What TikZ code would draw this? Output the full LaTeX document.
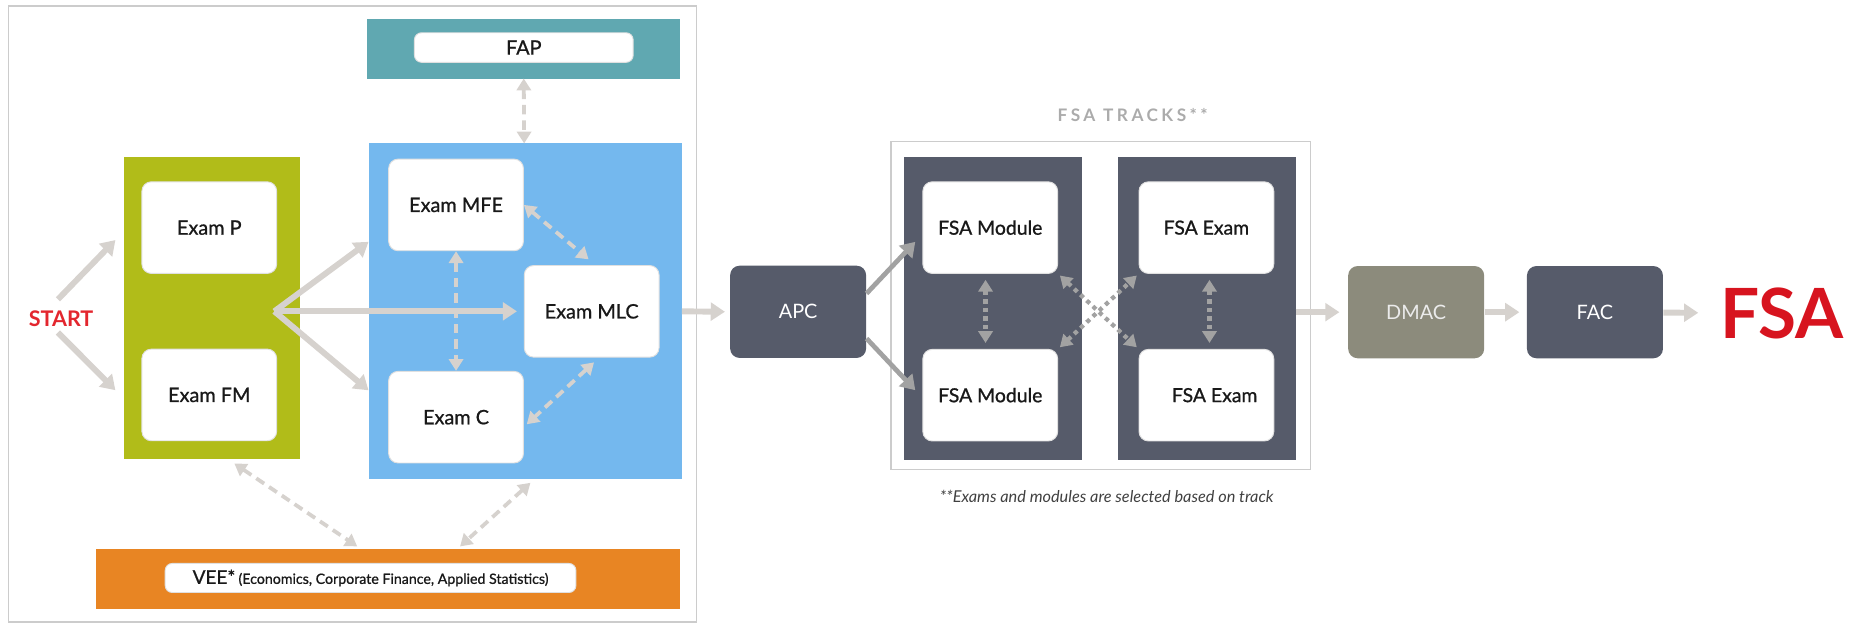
\documentclass[tikz,border=0pt]{standalone}
\usepackage{fontspec}
\setmainfont{Lato}
\newfontfamily\boxfont[FakeBold=0.9]{Lato}
\newfontfamily\trackfont[LetterSpace=20]{Lato}
\usepackage{xcolor}
\usetikzlibrary{positioning,arrows.meta}
\definecolor{examgreen}{HTML}{B1BC19}
\definecolor{examblue}{HTML}{74B8EE}
\definecolor{fapteal}{HTML}{60A8B1}
\definecolor{veeorange}{HTML}{E88523}
\definecolor{slate}{HTML}{565B6A}
\definecolor{dmacgray}{HTML}{8C8B7C}
\definecolor{arrowgray}{HTML}{D6D2CE}
\definecolor{trackgray}{HTML}{A2A2A2}
\definecolor{framegray}{HTML}{CCCCCC}
\definecolor{fsared}{HTML}{D7141F}
\definecolor{startred}{HTML}{E3262E}

\begin{document}
\begin{tikzpicture}[x=0.5pt, y=-0.5pt, node distance=75.6pt,
    panel/.style = {inner sep=0pt, outer sep=0pt},
    exam/.style = {draw=black!12, fill=white, rounded corners=4pt, minimum width=57pt, minimum height=38.75pt, inner sep=0pt, text=black!90, font=\boxfont\fontsize{8.4}{10}\selectfont},
    dark/.style = {fill=slate, rounded corners=4pt, minimum width=57.5pt, minimum height=39pt, inner sep=0pt, text=white, font=\fontsize{8.4}{10}\selectfont},
    flow/.style = {draw=arrowgray, line width=2.5pt, -{Triangle[length=6pt,width=7.5pt]}},
    link/.style = {draw=arrowgray, line width=1.6pt, dash pattern=on 4pt off 2.5pt, {Triangle[length=5pt,width=6pt]}-{Triangle[length=5pt,width=6pt]}},
    swap/.style = {draw=trackgray, line width=1.8pt, dash pattern=on 1.8pt off 1.8pt, {Triangle[length=5pt,width=6pt]}-{Triangle[length=5pt,width=6pt]}}]
  \useasboundingbox (0,0) rectangle (1568,527);

  \node[panel, draw=framegray, line width=0.6pt, minimum width=291pt, minimum height=260.5pt] (frame) at (298,265.5) {};
  \node[panel, fill=fapteal, minimum width=132.3pt, minimum height=25pt] (fapbox) at (442.8,41.4) {};
  \node[exam, minimum width=92.5pt, minimum height=12.5pt, rounded corners=3pt] (fap) at (443,40.2) {FAP};
  \node[panel, fill=examblue, minimum width=132.5pt, minimum height=142pt] (blue) at (444.2,263.3) {};
  \node[panel, fill=examgreen, minimum width=74.6pt, minimum height=128pt] (green) at (179.2,260.6) {};
  \node[panel, fill=veeorange, minimum width=246.9pt, minimum height=25pt] (veebox) at (328.1,489.7) {};
  \node[exam, font=\boxfont, minimum width=173.7pt, minimum height=12.3pt, rounded corners=3pt] (vee) at (313.4,488.8)
    {\fontsize{8}{9}\selectfont VEE*\,{\fontsize{6}{7}\selectfont(Economics, Corporate Finance, Applied Statistics)}};
  \node[inner sep=1pt, text=startred, font=\bfseries\fontsize{9.1}{11}\selectfont] (start) at (51.7,269.3) {START};

  \coordinate (fork) at (232,263.3);
  \draw[flow] ([xshift=-1.35pt,yshift=3.5pt]start.north) -- ([xshift=-3.5pt,yshift=-5.25pt]green.west |- 0,192.5);
  \draw[flow] ([xshift=-1.35pt,yshift=-1.4pt]start.south) -- ([xshift=-3.5pt,yshift=2pt]green.west |- 0,334);
  \draw[flow] (fork) -- ([yshift=29.4pt]blue.west);
  \draw[flow] (fork) -- ([yshift=-33.4pt]blue.west);

  \node[exam] (examP) at (177,192.5) {Exam P};
  \node[exam] (examFM) at (177,334) {Exam FM};
  \node[exam] (examMFE) at (385.7,173.3) {Exam MFE};
  \node[exam] (examMLC) at (500.4,263.3) {Exam MLC};
  \node[exam] (examC) at (385.7,352.8) {Exam C};

  \draw[link] (fapbox) -- (blue);
  \draw[link] (examMFE) -- (examC);
  \draw[flow, shorten >=2.9pt] (fork) -- (examMLC.west);
  \draw[link] (examMFE.east) -- ([xshift=-1.3pt,yshift=2.4pt]examMLC.north);
  \draw[link] ([xshift=1pt,yshift=-2pt]examMLC.south) -- ([xshift=1.2pt,yshift=-3pt]examC.east);
  \draw[link] ([xshift=9.5pt,yshift=-1.7pt]green.south) -- ([xshift=-13pt,yshift=1.3pt]veebox.north);
  \draw[link] ([xshift=2.2pt,yshift=-1.5pt]blue.south) -- ([xshift=30.5pt,yshift=1.3pt]veebox.north);

  \node[dark] (apc) at (675,263.7) {APC};
  \node[panel, draw=framegray, line width=0.6pt, minimum width=177.5pt, minimum height=138.6pt] (tracks) at (931,258.5) {};
  \node[panel, fill=slate, minimum width=75.1pt, minimum height=127.8pt] (lpanel) at (839.8,260.9) {};
  \node[panel, fill=slate, minimum width=75.1pt, minimum height=127.8pt] (rpanel) at (1020.6,260.9) {};
  \node[exam, font=\boxfont\fontsize{8.2}{10}\selectfont] (modTop) at (837.5,192.5) {FSA Module};
  \node[exam, font=\boxfont\fontsize{8.2}{10}\selectfont] (modBot) at (837.5,334.2) {FSA Module};
  \node[exam, font=\boxfont\fontsize{8.2}{10}\selectfont] (examTop) at (1020.3,192.5) {FSA Exam};
  \node[exam, font=\boxfont\fontsize{8.2}{10}\selectfont] (examBot) at (1020.3,334.2) {\hspace*{7pt}FSA Exam};
  \node[text=black!33, font=\trackfont\bfseries\fontsize{7.3}{9}\selectfont] (title) at (958,97.3) {FSA TRACKS**};
  \node[text=black!75, font=\itshape\fontsize{6.9}{8}\selectfont] (note) at (936,420) {**Exams and modules are selected based on track};

  \draw[flow, shorten >=2pt] (blue.east) -- (apc.west);
  \draw[flow, draw=trackgray, line width=2pt] ([yshift=7.75pt]apc.east) -- ([xshift=-3pt,yshift=-6pt]modTop.west);
  \draw[flow, draw=trackgray, line width=2pt] ([yshift=-11.3pt]apc.east) -- ([xshift=-3pt,yshift=2.1pt]modBot.west);
  \draw[swap, shorten <=2.5pt, shorten >=2.5pt] ([xshift=-2pt]modTop.south) -- ([xshift=-2pt]modBot.north);
  \draw[swap, shorten <=2.5pt, shorten >=2.5pt] ([xshift=1.3pt]examTop.south) -- ([xshift=1.3pt]examBot.north);
  \draw[swap, shorten <=1pt, shorten >=1pt] (modTop.south east) -- (examBot.north west);
  \draw[swap, shorten <=1pt, shorten >=1pt] (modBot.north east) -- (examTop.south west);

  \node[dark, fill=dmacgray, text=white!92!black] (dmac) at (1197.7,264) {DMAC};
  \node[dark, right of=dmac] (fac) {FAC};
  \node[inner sep=1pt, text=fsared, font=\bfseries\fontsize{29.3}{32}\selectfont] (fsa) at (1507,265) {FSA};

  \draw[flow, shorten >=3.5pt] (dmac.west -| rpanel.east) -- (dmac.west);
  \draw[flow, shorten >=3pt] (dmac) -- (fac);
  \draw[flow, shorten >=8pt] (fac) -- (fsa);
\end{tikzpicture}
\end{document}
